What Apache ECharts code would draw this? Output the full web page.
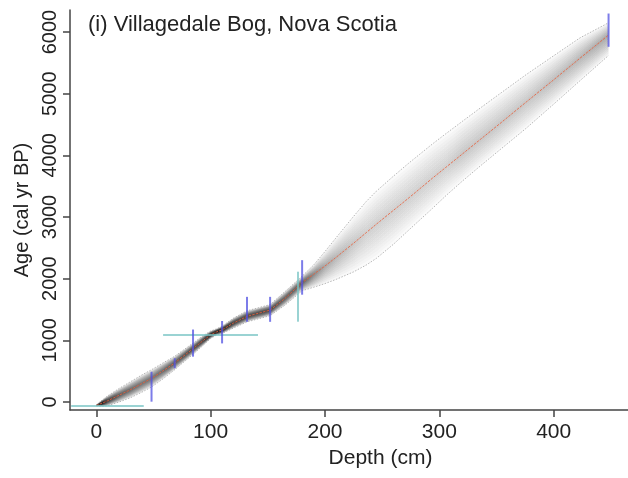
<!DOCTYPE html>
<html>
<head>
<meta charset="utf-8">
<script src="https://cdn.jsdelivr.net/npm/echarts@6/dist/echarts.min.js"></script>
<style>
html,body{margin:0;padding:0;background:#fff;}
#chart{width:628px;height:478px;}
</style>
</head>
<body>
<div id="chart"></div>
<script>
// ---- Age model (depth in cm, ages in cal yr BP) ----
const depths    = [0, 5, 10, 20, 30, 40, 48, 58, 68, 76, 85, 93, 100, 105, 110, 120, 132, 142, 152, 165, 180, 190, 200, 210, 225, 236, 245, 260, 274, 294, 306, 320, 336, 353, 376, 400, 423, 448];
const medianAge = [-55, -20, 20, 110, 200, 300, 380, 500, 625, 740, 870, 990, 1090, 1135, 1170, 1280, 1390, 1440, 1490, 1680, 1935, 2070, 2205, 2350, 2575, 2745, 2885, 3110, 3320, 3630, 3810, 4020, 4260, 4515, 4865, 5225, 5575, 5951];
const upperAge  = [-45, 30, 100, 220, 330, 440, 520, 630, 735, 840, 960, 1070, 1150, 1185, 1230, 1360, 1480, 1530, 1580, 1790, 2040, 2220, 2440, 2670, 3010, 3250, 3420, 3665, 3885, 4185, 4355, 4550, 4770, 5000, 5310, 5615, 5905, 6150];
const lowerAge  = [-65, -70, -60, 0, 70, 160, 240, 370, 515, 640, 780, 910, 1030, 1085, 1110, 1200, 1300, 1350, 1400, 1570, 1805, 1860, 1920, 1990, 2110, 2220, 2330, 2560, 2800, 3140, 3350, 3580, 3830, 4090, 4440, 4830, 5210, 5620];

// ---- Dated levels (blue: calibrated ranges) ----
const blueDepth = [48.3, 68.6, 84.6, 110, 131.8, 152, 180, 448];
const blueMin   = [5, 546, 735, 950, 1300, 1300, 1740, 5760];
const blueMax   = [490, 710, 1175, 1313, 1705, 1705, 2300, 6300];

// ---- Other markers (cyan) ----
const cyanDepthFrom = [-22, 58.4, 176.4];
const cyanDepthTo   = [41.5, 141.4, 176.4];
const cyanAgeFrom   = [-65, 1088, 1302];
const cyanAgeTo     = [-65, 1088, 2113];

// ---- Ticks ----
const xTicks = [0, 100, 200, 300, 400];
const yTicks = [0, 1000, 2000, 3000, 4000, 5000, 6000];

const bandFractions = [1, 0.9, 0.8, 0.7, 0.6, 0.5, 0.4, 0.3, 0.2, 0.1];

function alphaAt(i) {
  const w = upperAge[i] - lowerAge[i];
  return Math.min(0.2, 21 / w);
}

const FONT = '"Liberation Sans", Arial, Helvetica, sans-serif';
const TXT = '#222';

const chart = echarts.init(document.getElementById('chart'), null, {renderer: 'canvas'});

const option = {
  animation: false,
  backgroundColor: '#fff',
  grid: {left: 70, right: 0, top: 10, bottom: 68, containLabel: false},
  xAxis: {
    type: 'value', min: -23, max: 465,
    name: 'Depth (cm)', nameLocation: 'middle', nameGap: 38,
    nameTextStyle: {fontFamily: FONT, fontSize: 21, color: TXT, padding: [0, 0, 0, 63]},
    axisLine: {show: true, onZero: false, lineStyle: {color: '#444', width: 1.5}},
    axisTick: {show: true, length: 7, customValues: xTicks, lineStyle: {color: '#444', width: 1.5}},
    axisLabel: {customValues: xTicks, fontFamily: FONT, fontSize: 21, color: TXT, margin: 12,
      formatter: v => String(v)},
    splitLine: {show: false}
  },
  yAxis: {
    type: 'value', min: -130, max: 6357,
    name: 'Age (cal yr BP)', nameLocation: 'middle', nameGap: 30,
    nameTextStyle: {fontFamily: FONT, fontSize: 20, color: TXT},
    axisLine: {show: true, onZero: false, lineStyle: {color: '#444', width: 1.5}},
    axisTick: {show: true, length: 7, customValues: yTicks, lineStyle: {color: '#444', width: 1.5}},
    axisLabel: {customValues: yTicks, rotate: 90, fontFamily: FONT, fontSize: 20, color: TXT, margin: 10,
      formatter: v => String(v)},
    splitLine: {show: false}
  },
  graphic: [{
    type: 'text', left: 88, top: 14,
    style: {text: '(i) Villagedale Bog, Nova Scotia', font: '22px ' + FONT, fill: TXT}
  }],
  series: [
    {
      type: 'custom', name: 'envelope', coordinateSystem: 'cartesian2d', silent: true, z: 1,
      data: bandFractions.map((f, k) => [k, 0]),
      renderItem: function (params, api) {
        const f = bandFractions[params.dataIndex];
        const n = depths.length;
        const pts = [];
        for (let i = 0; i < n; i++) pts.push(api.coord([depths[i], medianAge[i] + f * (upperAge[i] - medianAge[i])]));
        for (let i = n - 1; i >= 0; i--) pts.push(api.coord([depths[i], medianAge[i] - f * (medianAge[i] - lowerAge[i])]));
        const x0 = api.coord([depths[0], 0])[0];
        const x1 = api.coord([depths[n - 1], 0])[0];
        const stops = depths.map((d, i) => ({
          offset: (api.coord([d, 0])[0] - x0) / (x1 - x0),
          color: 'rgba(0,0,0,' + alphaAt(i).toFixed(3) + ')'
        }));
        return {
          type: 'polygon', shape: {points: pts},
          style: {fill: {type: 'linear', x: x0, y: 0, x2: x1, y2: 0, global: true, colorStops: stops}}
        };
      }
    },
    {
      type: 'line', name: 'upper', z: 2, symbol: 'none', silent: true,
      data: depths.map((d, i) => [d, upperAge[i]]),
      lineStyle: {color: '#999', width: 0.7, type: [1.5, 1.5]}
    },
    {
      type: 'line', name: 'lower', z: 2, symbol: 'none', silent: true,
      data: depths.map((d, i) => [d, lowerAge[i]]),
      lineStyle: {color: '#999', width: 0.7, type: [1.5, 1.5]}
    },
    {
      type: 'line', name: 'median', z: 3, symbol: 'none', silent: true,
      data: depths.map((d, i) => [d, medianAge[i]]),
      lineStyle: {color: '#e8603c', width: 1, type: [2.5, 1.2], opacity: 0.85}
    },
    {
      type: 'custom', name: 'cyan', coordinateSystem: 'cartesian2d', silent: true, z: 4,
      data: cyanDepthFrom.map((d, i) => [d, cyanAgeFrom[i], cyanDepthTo[i], cyanAgeTo[i]]),
      renderItem: function (params, api) {
        const p1 = api.coord([api.value(0), api.value(1)]);
        const p2 = api.coord([api.value(2), api.value(3)]);
        return {type: 'line', shape: {x1: p1[0], y1: p1[1], x2: p2[0], y2: p2[1]},
          style: {stroke: 'rgba(120,196,196,0.75)', lineWidth: 2}};
      }
    },
    {
      type: 'custom', name: 'dates', coordinateSystem: 'cartesian2d', silent: true, z: 5,
      data: blueDepth.map((d, i) => [d, blueMin[i], blueMax[i]]),
      renderItem: function (params, api) {
        const p1 = api.coord([api.value(0), api.value(1)]);
        const p2 = api.coord([api.value(0), api.value(2)]);
        return {type: 'line', shape: {x1: p1[0], y1: p1[1], x2: p2[0], y2: p2[1]},
          style: {stroke: 'rgba(80,80,225,0.75)', lineWidth: 2}};
      }
    }
  ]
};
chart.setOption(option);
</script>
</body>
</html>
